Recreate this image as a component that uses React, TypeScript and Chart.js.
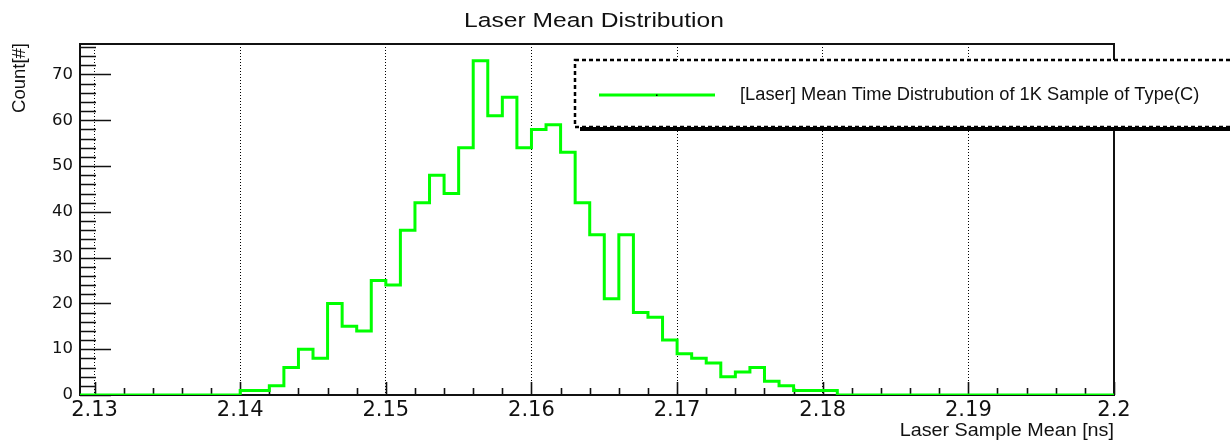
import { useEffect, useRef } from 'react';
import { Chart, registerables } from 'chart.js';

Chart.register(...registerables);

// Text
const chartTitle = 'Laser Mean Distribution';
const xAxisTitle = 'Laser Sample Mean [ns]';
const yAxisTitle = 'Count[#]';
const legendLabel = '[Laser] Mean Time Distrubution of 1K Sample of Type(C)';

// Histogram binning (ns)
const binStart = 2.129;
const binWidth = 0.001;

// Entries per bin, from 2.129 up to 2.200
const binCounts = [
  0, 0, 0, 0, 0, 0, 0, 0, 0, 0, 0,
  1, 1, 2, 6, 10, 8, 20, 15, 14, 25,
  24, 36, 42, 48, 44, 54, 73, 61, 65, 54,
  58, 59, 53, 42, 35, 21, 35, 18, 17, 12,
  9, 8, 7, 4, 5, 6, 3, 2, 1, 1,
  1, 0, 0, 0, 0, 0, 0, 0, 0, 0,
  0, 0, 0, 0, 0, 0, 0, 0, 0, 0,
];

// Axis ranges and ticks
const xMin = 2.129;
const xMax = 2.2;
const yMin = 0;
const yMax = 76.65;
const xTickValues = [2.13, 2.14, 2.15, 2.16, 2.17, 2.18, 2.19, 2.2];
const xTickLabels = ['2.13', '2.14', '2.15', '2.16', '2.17', '2.18', '2.19', '2.2'];
const yTickValues = [0, 10, 20, 30, 40, 50, 60, 70];
const yTickLabels = ['0', '10', '20', '30', '40', '50', '60', '70'];
const xMinorStep = 0.002;
const yMinorStep = 2;

const LINE_GREEN = '#00ff00';
const INK = '#111111';

function drawText(
  ctx: CanvasRenderingContext2D,
  text: string,
  x: number,
  y: number,
  size: number,
  align: CanvasTextAlign,
  sx = 1,
  rotate = 0,
) {
  ctx.save();
  ctx.translate(x, y);
  if (rotate) ctx.rotate(rotate);
  ctx.scale(sx, 1);
  ctx.font = `${size}px "Liberation Sans", Arial, sans-serif`;
  ctx.fillStyle = INK;
  ctx.textAlign = align;
  ctx.textBaseline = 'alphabetic';
  ctx.fillText(text, 0, 0);
  ctx.restore();
}

// Frame and inward tick marks, in the style of a ROOT canvas
const frameAndTicks = {
  id: 'frameAndTicks',
  beforeDatasetsDraw(chart: any) {
    const { ctx, chartArea: a, scales } = chart;
    const xs = scales.x;
    const ys = scales.y;
    ctx.save();
    ctx.strokeStyle = INK;
    ctx.lineWidth = 1.6;
    ctx.beginPath();
    // x ticks: majors every 0.01, minors every 0.002
    const nX = Math.round((xMax - xTickValues[0]) / xMinorStep);
    for (let i = 0; i <= nX; i++) {
      const v = xTickValues[0] + i * xMinorStep;
      const isMajor = xTickValues.some((t) => Math.abs(t - v) < 1e-9);
      const px = Math.round(xs.getPixelForValue(v)) + 0.5;
      ctx.moveTo(px, a.bottom);
      ctx.lineTo(px, a.bottom - (isMajor ? 13 : 7));
    }
    // y ticks: majors every 10, minors every 2
    const nY = Math.floor((yMax - yMin) / yMinorStep);
    for (let i = 0; i <= nY; i++) {
      const v = yMin + i * yMinorStep;
      const isMajor = yTickValues.includes(v);
      const py = Math.round(ys.getPixelForValue(v)) + 0.5;
      ctx.moveTo(a.left, py);
      ctx.lineTo(a.left + (isMajor ? 31 : 16), py);
    }
    ctx.stroke();
    ctx.lineWidth = 2;
    ctx.strokeRect(a.left, a.top, a.right - a.left, a.bottom - a.top);
    ctx.restore();
  },
  afterDatasetsDraw(chart: any) {
    const { ctx, chartArea: a } = chart;
    ctx.save();

    // Legend box with drop shadow
    const lx = 575;
    const ly = 60;
    const lw = 700;
    const lh = 67;
    ctx.fillStyle = '#000';
    ctx.fillRect(lx + 5, ly + 4, lw, lh);
    ctx.fillStyle = '#fff';
    ctx.fillRect(lx, ly, lw, lh);
    ctx.strokeStyle = '#000';
    ctx.lineWidth = 2.5;
    ctx.setLineDash([4, 3]);
    ctx.strokeRect(lx, ly, lw, lh);
    ctx.setLineDash([]);

    // Legend entry
    ctx.strokeStyle = LINE_GREEN;
    ctx.lineWidth = 3;
    ctx.beginPath();
    ctx.moveTo(599, 95);
    ctx.lineTo(715, 95);
    ctx.stroke();
    ctx.fillStyle = '#000';
    ctx.fillRect(656, 94.5, 1.5, 1.5);
    drawText(ctx, legendLabel, 740, 100, 18, 'left', 1.015);

    // Titles
    drawText(ctx, chartTitle, 594, 27, 20.5, 'center', 1.2);
    drawText(ctx, xAxisTitle, a.right, 436, 17.5, 'right', 1.13);
    drawText(ctx, yAxisTitle, 25, 43, 18.5, 'right', 1, -Math.PI / 2);

    ctx.restore();
  },
};

export default function App() {
  const canvasRef = useRef<HTMLCanvasElement>(null);

  useEffect(() => {
    document.body.style.margin = '0';
    const canvas = canvasRef.current;
    if (!canvas) return;

    // One point per bin low edge, plus the closing upper edge
    const points = binCounts.map((c, i) => ({ x: +(binStart + i * binWidth).toFixed(4), y: c }));
    points.push({ x: xMax, y: binCounts[binCounts.length - 1] });

    const chart = new Chart(canvas, {
      type: 'line',
      data: {
        datasets: [
          {
            label: legendLabel,
            data: points,
            stepped: 'before',
            borderColor: LINE_GREEN,
            borderWidth: 3,
            pointRadius: 0,
            fill: false,
            tension: 0,
          },
        ],
      },
      options: {
        responsive: false,
        animation: false,
        devicePixelRatio: 1,
        layout: { padding: { top: 44, right: 116, left: 0, bottom: 0 } },
        plugins: {
          legend: { display: false },
          title: { display: false },
          tooltip: { enabled: false },
        },
        scales: {
          x: {
            type: 'linear',
            min: xMin,
            max: xMax,
            afterBuildTicks: (axis: any) => {
              axis.ticks = xTickValues.map((v) => ({ value: v }));
            },
            afterFit: (axis: any) => {
              axis.height = 45;
            },
            grid: {
              display: true,
              drawTicks: false,
              color: '#000',
              lineWidth: 1,
            },
            border: { display: false, dash: [1, 2] },
            ticks: {
              autoSkip: false,
              maxRotation: 0,
              padding: 3,
              color: INK,
              font: { family: 'DejaVu Sans', size: 21 },
              callback: (_v: any, i: number) => xTickLabels[i],
            },
          },
          y: {
            type: 'linear',
            min: yMin,
            max: yMax,
            afterBuildTicks: (axis: any) => {
              axis.ticks = yTickValues.map((v) => ({ value: v }));
            },
            afterFit: (axis: any) => {
              axis.width = 80;
            },
            grid: { display: false, drawTicks: false },
            border: { display: false },
            ticks: {
              padding: 7,
              color: INK,
              font: { family: 'DejaVu Sans', size: 16.5 },
              callback: (_v: any, i: number) => yTickLabels[i],
            },
          },
        },
      },
      plugins: [frameAndTicks],
    });

    return () => chart.destroy();
  }, []);

  return (
    <div style={{ width: 1230, height: 440, background: '#fff' }}>
      <canvas ref={canvasRef} width={1230} height={440} style={{ display: 'block' }} />
    </div>
  );
}
